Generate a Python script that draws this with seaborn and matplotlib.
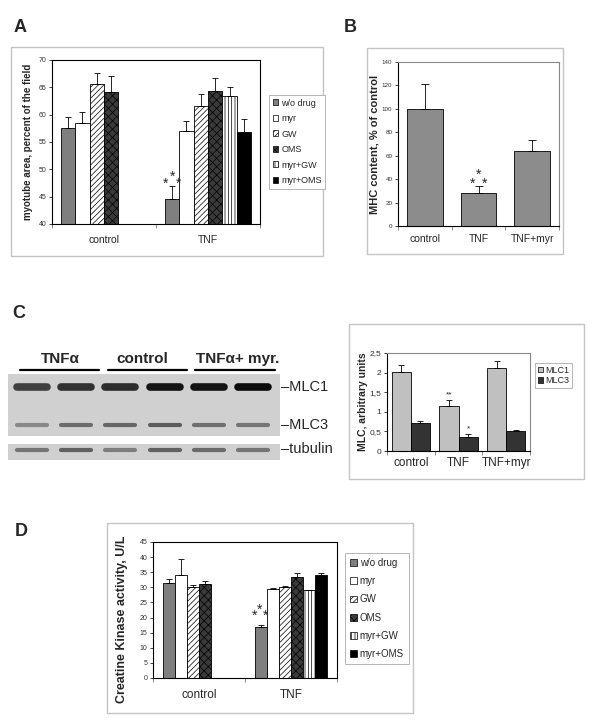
import matplotlib
matplotlib.use("Agg")
import matplotlib.pyplot as plt
import matplotlib.patches as mpatches
from matplotlib.lines import Line2D
import numpy as np
import pandas as pd
import seaborn as sns

# ---------------- data ----------------
A_GROUPS = ["control", "TNF"]
SERIES = ["w/o drug", "myr", "GW", "OMS", "myr+GW", "myr+OMS"]
A_CONTROL = [57.6, 58.4, 65.6, 64.1]
A_CONTROL_ERR = [1.9, 2.0, 2.0, 2.9]
A_TNF = [44.5, 57.0, 61.5, 64.4, 63.4, 56.9]
A_TNF_ERR = [2.5, 1.9, 2.3, 2.3, 1.7, 2.3]
A_YTICKS = [40, 45, 50, 55, 60, 65, 70]

B_GROUPS = ["control", "TNF", "TNF+myr"]
B_VALUES = [100, 28, 64]
B_ERR = [21, 6, 9.5]
B_YTICKS = [0, 20, 40, 60, 80, 100, 120, 140]

C_GROUPS = ["control", "TNF", "TNF+myr"]
C_SERIES = ["MLC1", "MLC3"]
C_MLC1 = [2.02, 1.15, 2.12]
C_MLC1_ERR = [0.18, 0.15, 0.18]
C_MLC3 = [0.72, 0.35, 0.52]
C_MLC3_ERR = [0.05, 0.08, 0.02]
C_YTICKS = [0, 0.5, 1, 1.5, 2, 2.5]
C_YTICKLABELS = ["0", "0,5", "1", "1,5", "2", "2,5"]

D_GROUPS = ["control", "TNF"]
D_CONTROL = [31.5, 34.0, 30.0, 31.0]
D_CONTROL_ERR = [1.3, 5.3, 0.7, 1.2]
D_TNF = [16.8, 29.3, 30.0, 33.5, 29.0, 34.0]
D_TNF_ERR = [0.6, 0.6, 0.5, 1.2, 0.2, 0.8]
D_YTICKS = [0, 5, 10, 15, 20, 25, 30, 35, 40, 45]

BLOT_HEADERS = ["TNFα", "control", "TNFα+ myr."]
BLOT_MLC1 = [0.72, 0.80, 0.82, 0.95, 0.95, 1.0]
BLOT_MLC3 = [0.35, 0.50, 0.52, 0.58, 0.48, 0.45]
BLOT_TUB = [0.45, 0.55, 0.40, 0.55, 0.50, 0.45]
BLOT_ROWS = ["MLC1", "MLC3", "tubulin"]

# ---------------- style ----------------
sns.set_style("white")
plt.rcParams["font.family"] = ["Liberation Sans", "DejaVu Sans"]
plt.rcParams["hatch.linewidth"] = 0.5

FILL = {"w/o drug": "#7f7f7f", "myr": "white", "GW": "white",
        "OMS": "#3a3a3a", "myr+GW": "white", "myr+OMS": "black"}
HATCH = {"w/o drug": None, "myr": None, "GW": "//////", "OMS": "xxxx",
         "myr+GW": "|||||", "myr+OMS": None}

W, H = 600, 726


def rect(x0, y0, x1, y1):
    return [x0 / W, 1 - y1 / H, (x1 - x0) / W, (y1 - y0) / H]


def fx(x):
    return x / W


def fy(y):
    return 1 - y / H


def grouped_df(groups, rows, errs, series):
    recs = []
    for g, vals, es in zip(groups, rows, errs):
        for s, v, e in zip(series, vals, es):
            recs.append(dict(group=g, series=s, value=v, err=e))
    return pd.DataFrame(recs)


def err(ax, xc, h, e, cap=2.2):
    ax.errorbar(xc, h, yerr=[[0], [e]], fmt="none", ecolor="black",
                elinewidth=0.6, capsize=cap, capthick=0.6, zorder=5)


def draw_grouped(ax, df, groups, hue_order, width, palette, hatches):
    sns.barplot(data=df, x="group", y="value", hue="series", order=groups,
                hue_order=hue_order, palette=palette, width=width,
                errorbar=None, edgecolor="black", linewidth=0.6,
                saturation=1, legend=False, ax=ax)
    errmap = {(r.group, r.series): r.err for r in df.itertuples()}
    tops = {}
    for cont, lvl in zip(ax.containers, hue_order):
        for p in cont:
            h = p.get_height()
            if not np.isfinite(h):
                continue
            xc = p.get_x() + p.get_width() / 2
            g = groups[int(round(xc))]
            if (g, lvl) not in errmap:
                continue
            if hatches.get(lvl):
                p.set_hatch(hatches[lvl])
            e = errmap[(g, lvl)]
            err(ax, xc, h, e)
            tops[(g, lvl)] = (xc, h + e)
    return tops


def style_axes(ax, groups, yticks, yticklabels, ylim, tick_size, xsize, xpad,
               ylabel, ysize, ylab_x, frame_top="black", ylab_y=0.5):
    ax.set_ylim(*ylim)
    ax.set_xlim(-0.5, len(groups) - 0.5)
    ax.set_yticks(yticks)
    ax.set_yticklabels(yticklabels, fontsize=tick_size, color="#333333")
    ax.tick_params(axis="y", direction="out", length=2.5, width=0.6, pad=1.5, left=True)
    ax.set_xticks(range(len(groups)))
    ax.set_xticklabels(groups, fontsize=xsize)
    ax.tick_params(axis="x", which="major", length=0, pad=xpad)
    ax.set_xticks([i - 0.5 for i in range(len(groups) + 1)], minor=True)
    ax.tick_params(axis="x", which="minor", direction="out", length=3, width=0.6,
                   bottom=True, color="#777777")
    for side, sp in ax.spines.items():
        sp.set_visible(True)
        sp.set_linewidth(0.8)
        sp.set_color("black" if side in ("left", "bottom") else frame_top)
    ax.set_xlabel("")
    ax.set_ylabel(ylabel, fontsize=ysize, fontweight="bold")
    ax.yaxis.label.set_verticalalignment("center")
    ax.yaxis.set_label_coords(ylab_x, ylab_y)


def outer_box(fig, x0, y0, x1, y1):
    fig.add_artist(mpatches.Rectangle((fx(x0), fy(y1)), (x1 - x0) / W, (y1 - y0) / H,
                                      transform=fig.transFigure, fill=False,
                                      edgecolor="#c4c4c4", linewidth=1.0))


def legend_handles(series, palette, hatches):
    return [mpatches.Patch(facecolor=palette[s], edgecolor="black", hatch=hatches.get(s),
                           linewidth=0.5, label=s) for s in series]


def stars(ax, xy, offsets, size):
    for dx, dy in offsets:
        ax.annotate("*", xy, xytext=(dx, dy), textcoords="offset points",
                    ha="center", va="center", fontsize=size)


fig = plt.figure(figsize=(6.0, 7.26), dpi=100)
fig.patch.set_facecolor("white")

# panel boxes
outer_box(fig, 11, 47, 323, 256)
outer_box(fig, 367, 48, 563, 254)
outer_box(fig, 349, 324, 584, 479)
outer_box(fig, 107, 523, 413, 713)

for lab, x, y in [("A", 20, 27), ("B", 350, 27), ("C", 19, 313), ("D", 21, 531)]:
    fig.text(fx(x), fy(y), lab, fontsize=13, fontweight="bold", ha="center", va="center")

# ---------------- Panel A ----------------
axA = fig.add_axes(rect(52, 60, 260, 224))
dfA = grouped_df(A_GROUPS, [A_CONTROL, A_TNF], [A_CONTROL_ERR, A_TNF_ERR], SERIES)
topsA = draw_grouped(axA, dfA, A_GROUPS, SERIES, 0.83, FILL, HATCH)
style_axes(axA, A_GROUPS, A_YTICKS, [str(t) for t in A_YTICKS], (40, 70), 5, 7.5, 8,
           "myotube area, percent of the field", 7, -0.115)
stars(axA, topsA[("TNF", "w/o drug")], [(0, 6.5), (-4.5, 1.5), (4.5, 1.5)], 10)
legA = fig.legend(handles=legend_handles(SERIES, FILL, HATCH), loc="upper left",
                  bbox_to_anchor=(fx(269), fy(95)), bbox_transform=fig.transFigure,
                  fontsize=6.5, handlelength=0.65, handleheight=0.65, handletextpad=0.3,
                  labelspacing=0.72, borderpad=0.4, borderaxespad=0, fancybox=False,
                  edgecolor="#aaaaaa", framealpha=1)
legA.get_frame().set_linewidth(0.6)

# ---------------- Panel B ----------------
axB = fig.add_axes(rect(398, 62, 559, 226))
dfB = pd.DataFrame({"group": B_GROUPS, "value": B_VALUES, "err": B_ERR})
sns.barplot(data=dfB, x="group", y="value", order=B_GROUPS, color="#8c8c8c", width=0.67,
            errorbar=None, edgecolor="black", linewidth=0.6, saturation=1, ax=axB)
topsB = {}
for p, g, e in zip(axB.containers[0], B_GROUPS, B_ERR):
    xc = p.get_x() + p.get_width() / 2
    err(axB, xc, p.get_height(), e, cap=3)
    topsB[g] = (xc, p.get_height() + e)
style_axes(axB, B_GROUPS, B_YTICKS, [str(t) for t in B_YTICKS], (0, 140), 4.5, 7.5, 6,
           "MHC content, % of control", 8, -0.145, frame_top="#888888")
stars(axB, topsB["TNF"], [(0, 8.5), (-4, 1.5), (4, 1.5)], 10)

# ---------------- Panel C blot ----------------
axBlot = fig.add_axes(rect(8, 374, 280, 436))
axTub = fig.add_axes(rect(8, 444, 280, 460))
lanes = np.arange(len(BLOT_MLC1))
for axb, top in [(axBlot, 62), (axTub, 16)]:
    axb.set_facecolor("#d0d0d0")
    axb.set_xlim(-0.54, len(lanes) - 0.39)
    axb.set_ylim(top, 0)
    axb.set_xticks([])
    axb.set_yticks([])
    for sp in axb.spines.values():
        sp.set_visible(False)


def band_color(v):
    g = 0.80 - 0.76 * v
    return (g, g, g)


for x, v in zip(lanes, BLOT_MLC1):
    axBlot.plot([x - 0.34, x + 0.34], [13, 13], color=band_color(v), lw=5.5, solid_capstyle="round")
for x, v in zip(lanes, BLOT_MLC3):
    axBlot.plot([x - 0.34, x + 0.34], [51, 51], color=band_color(v), lw=3.0, solid_capstyle="round")
for x, v in zip(lanes, BLOT_TUB):
    axTub.plot([x - 0.34, x + 0.34], [5.5, 5.5], color=band_color(v), lw=3.0, solid_capstyle="round")

for txt, xc, (x0, x1) in zip(BLOT_HEADERS, [60, 142, 238], [(20, 99), (108, 187), (195, 275)]):
    fig.text(fx(xc), fy(359), txt, fontsize=11, fontweight="bold", ha="center", va="center")
    fig.add_artist(Line2D([fx(x0), fx(x1)], [fy(370), fy(370)], color="black", lw=1.6,
                          transform=fig.transFigure))
for name, y in zip(BLOT_ROWS, [387, 425, 449]):
    fig.text(fx(281), fy(y), "–" + name, fontsize=10.5, ha="left", va="center")

# ---------------- Panel C chart ----------------
axC = fig.add_axes(rect(387, 353, 530, 451))
dfC = grouped_df(C_GROUPS, list(zip(C_MLC1, C_MLC3)), list(zip(C_MLC1_ERR, C_MLC3_ERR)), C_SERIES)
C_FILL = {"MLC1": "#c0c0c0", "MLC3": "#333333"}
topsC = draw_grouped(axC, dfC, C_GROUPS, C_SERIES, 0.8, C_FILL, {})
style_axes(axC, C_GROUPS, C_YTICKS, C_YTICKLABELS, (0, 2.5), 6, 8.5, 4,
           "MLC, arbitrary units", 7.5, -0.17, frame_top="#888888")
xs, ys = topsC[("TNF", "MLC1")]
axC.annotate("**", (xs, ys), xytext=(0, 4), textcoords="offset points", ha="center", va="center", fontsize=6)
xs, ys = topsC[("TNF", "MLC3")]
axC.annotate("*", (xs, ys), xytext=(0, 4), textcoords="offset points", ha="center", va="center", fontsize=6)
legC = fig.legend(handles=legend_handles(C_SERIES, C_FILL, {}), loc="upper left",
                  bbox_to_anchor=(fx(535), fy(363)), bbox_transform=fig.transFigure,
                  fontsize=6.5, handlelength=0.6, handleheight=0.6, handletextpad=0.2,
                  labelspacing=0.15, borderpad=0.3, borderaxespad=0, fancybox=False,
                  edgecolor="#aaaaaa", framealpha=1)
legC.get_frame().set_linewidth(0.6)

# ---------------- Panel D ----------------
axD = fig.add_axes(rect(153, 542, 337, 678))
dfD = grouped_df(D_GROUPS, [D_CONTROL, D_TNF], [D_CONTROL_ERR, D_TNF_ERR], SERIES)
topsD = draw_grouped(axD, dfD, D_GROUPS, SERIES, 0.78, FILL, HATCH)
style_axes(axD, D_GROUPS, D_YTICKS, [str(t) for t in D_YTICKS], (0, 45), 5, 8.5, 8,
           "Creatine Kinase activity, U/L", 9, -0.17, ylab_y=0.43)
stars(axD, topsD[("TNF", "w/o drug")], [(-1, 11), (-4.5, 7), (3, 7)], 10)
legD = fig.legend(handles=legend_handles(SERIES, FILL, HATCH), loc="upper left",
                  bbox_to_anchor=(fx(345), fy(553)), bbox_transform=fig.transFigure,
                  fontsize=7, handlelength=0.7, handleheight=0.7, handletextpad=0.3,
                  labelspacing=0.85, borderpad=0.5, borderaxespad=0, fancybox=False,
                  edgecolor="#aaaaaa", framealpha=1)
legD.get_frame().set_linewidth(0.6)

fig.savefig("out.png", dpi=100, facecolor="white")
